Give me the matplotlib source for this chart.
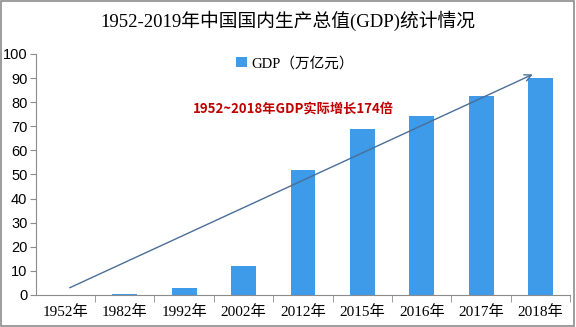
import matplotlib
matplotlib.use("Agg")
import matplotlib.pyplot as plt
from matplotlib.patches import Rectangle

years = ["1952年", "1982年", "1992年", "2002年", "2012年", "2015年", "2016年", "2017年", "2018年"]
gdp = [0.07, 0.53, 2.7, 12.1, 51.9, 68.9, 74.4, 82.7, 90.0]
y_ticks = list(range(0, 101, 10))

cjk = ["Noto Sans CJK SC", "DejaVu Sans"]
serif_cjk = ["Liberation Serif", "Noto Sans CJK SC"]

fig = plt.figure(figsize=(5.76, 3.27), dpi=100)
fig.patch.set_facecolor("white")
fig.add_artist(Rectangle((0.002, 0.003), 0.995, 0.993, transform=fig.transFigure,
                         fill=False, edgecolor="#8c8c8c", linewidth=1.2))

ax = fig.add_axes([0.062, 0.098, 0.928, 0.737])
x = list(range(len(years)))
ax.bar(x, gdp, width=0.42, color="#3d9be9", label="GDP（万亿元）", zorder=2)

ax.set_xlim(-0.5, 8.5)
ax.set_ylim(0, 100)
ax.set_yticks(y_ticks)
ax.set_yticklabels([str(v) for v in y_ticks], fontsize=10.5, family=["Liberation Sans"])
ax.set_xticks(x)
ax.set_xticklabels(years, fontsize=11, family=serif_cjk)
ax.set_xticks([i + 0.5 for i in x], minor=True)
ax.tick_params(axis="x", which="major", length=0, pad=7)
ax.tick_params(axis="x", which="minor", length=5, color="#8c8c8c", direction="out")
ax.tick_params(axis="y", length=4, color="#8c8c8c", direction="out", pad=2)
for s in ["top", "right"]:
    ax.spines[s].set_visible(False)
for s in ["left", "bottom"]:
    ax.spines[s].set_color("#8c8c8c")

ax.annotate("", xy=(7.91, 92), xytext=(0.03, 2.5),
            arrowprops=dict(arrowstyle="->", color="#4a6e96", lw=1.0,
                            mutation_scale=12), zorder=3)

ax.text(2.15, 77, "1952~2018年GDP实际增长174倍", color="#c00000",
        fontsize=9.5, fontweight="bold", family=cjk, ha="left", va="center")

leg = ax.legend(loc="upper center", bbox_to_anchor=(0.485, 1.045), frameon=False,
                prop={"family": serif_cjk, "size": 10.5}, handlelength=0.7,
                handleheight=0.7, handletextpad=0.3)

fig.text(0.5, 0.935, "1952-2019年中国国内生产总值(GDP)统计情况", ha="center", va="center",
         fontsize=13.5, family=serif_cjk)

fig.savefig("out.png", dpi=100)
